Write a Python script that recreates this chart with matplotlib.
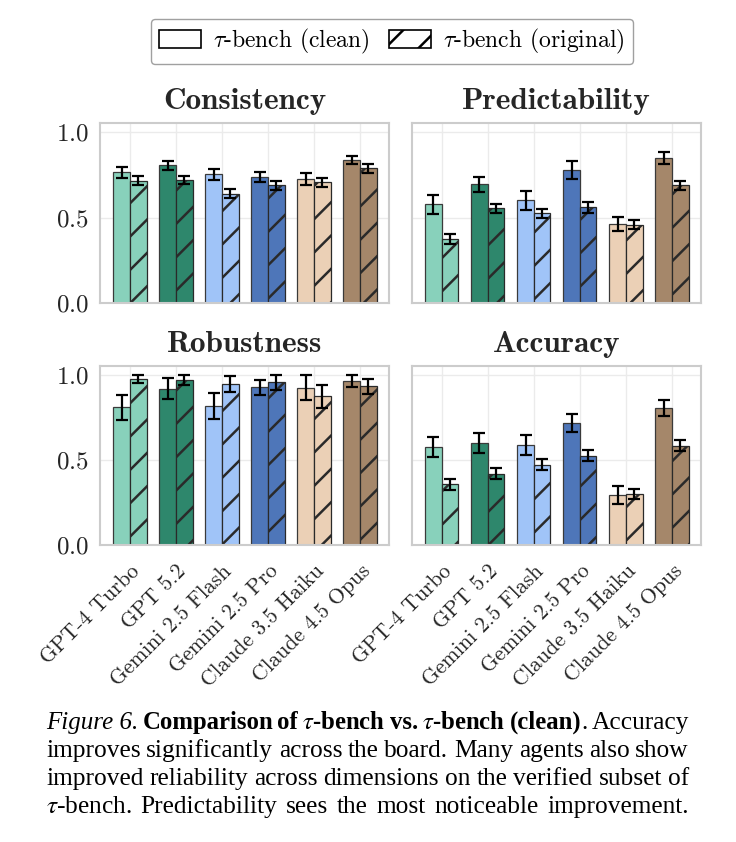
import matplotlib
matplotlib.use('Agg')
import matplotlib.pyplot as plt
from matplotlib.patches import Patch
import numpy as np

models = ['GPT-4 Turbo', 'GPT 5.2', 'Gemini 2.5 Flash', 'Gemini 2.5 Pro',
          'Claude 3.5 Haiku', 'Claude 4.5 Opus']
colors = ['#88D1BB', '#2E876C', '#A0C4F8', '#4E76B9', '#EBD0B6', '#A5876A']

# (clean, clean err, original, original err) per metric
consistency_clean = [0.765, 0.806, 0.753, 0.737, 0.727, 0.838]
consistency_clean_err = [0.033, 0.027, 0.031, 0.031, 0.035, 0.026]
consistency_orig = [0.717, 0.719, 0.639, 0.690, 0.706, 0.788]
consistency_orig_err = [0.025, 0.024, 0.027, 0.027, 0.027, 0.025]

predictability_clean = [0.578, 0.696, 0.601, 0.780, 0.464, 0.849]
predictability_clean_err = [0.057, 0.044, 0.057, 0.052, 0.042, 0.037]
predictability_orig = [0.375, 0.554, 0.525, 0.560, 0.458, 0.690]
predictability_orig_err = [0.031, 0.028, 0.028, 0.033, 0.027, 0.027]

robustness_clean = [0.809, 0.920, 0.817, 0.928, 0.926, 0.963]
robustness_clean_err = [0.074, 0.062, 0.078, 0.043, 0.074, 0.035]
robustness_orig = [0.975, 0.971, 0.947, 0.957, 0.875, 0.934]
robustness_orig_err = [0.023, 0.028, 0.047, 0.043, 0.068, 0.045]

accuracy_clean = [0.575, 0.600, 0.589, 0.717, 0.294, 0.805]
accuracy_clean_err = [0.057, 0.058, 0.058, 0.054, 0.054, 0.046]
accuracy_orig = [0.355, 0.417, 0.472, 0.524, 0.296, 0.583]
accuracy_orig_err = [0.032, 0.032, 0.032, 0.033, 0.030, 0.032]

panels = [
    ('Consistency', consistency_clean, consistency_clean_err, consistency_orig, consistency_orig_err),
    ('Predictability', predictability_clean, predictability_clean_err, predictability_orig, predictability_orig_err),
    ('Robustness', robustness_clean, robustness_clean_err, robustness_orig, robustness_orig_err),
    ('Accuracy', accuracy_clean, accuracy_clean_err, accuracy_orig, accuracy_orig_err),
]

caption_lines = [
    [[('Figure 6.', 'it')], [('Comparison', 'bf')], [('of', 'bf')], [(r'$\tau$-bench', 'bf')],
     [('vs.', 'bf')], [(r'$\tau$-bench', 'bf')], [('(clean)', 'bf'), ('.', 'rm')], [('Accuracy', 'rm')]],
    'improves significantly across the board. Many agents also show',
    'improved reliability across dimensions on the verified subset of',
    r'$\tau$-bench. Predictability sees the most noticeable improvement.',
]

plt.rcParams['font.family'] = 'cmr10'
plt.rcParams['mathtext.fontset'] = 'cm'
plt.rcParams['axes.formatter.use_mathtext'] = True
plt.rcParams['hatch.linewidth'] = 1.8

W, H = 736, 842
fig = plt.figure(figsize=(W / 100, H / 100), dpi=100)

boxes = [(100, 123, 389, 302.7), (411.7, 123, 701, 302.7),
         (100, 365.7, 389, 544.5), (411.7, 365.7, 701, 544.5)]

x = np.arange(len(models))
bw = 0.36
text_col = '#262626'

for i, (title, c, ce, o, oe) in enumerate(panels):
    l, t, r, b = boxes[i]
    ax = fig.add_axes([l / W, 1 - b / H, (r - l) / W, (b - t) / H])
    ax.set_axisbelow(True)
    ax.grid(True, color='#ebebeb', linewidth=1.0)
    ax.bar(x - bw / 2, c, bw, color=colors, edgecolor='#3a3a3a', linewidth=0.9)
    ax.bar(x + bw / 2, o, bw, color=colors, edgecolor='#2a2a2a', linewidth=0.9, hatch='/')
    ekw = dict(fmt='none', ecolor='black', elinewidth=1.6, capsize=4, capthick=1.6)
    ax.errorbar(x - bw / 2, c, yerr=ce, **ekw)
    ax.errorbar(x + bw / 2, o, yerr=oe, **ekw)
    ax.set_xlim(-0.652, 5.63)
    ax.set_ylim(0, 1.055)
    ax.set_yticks([0.0, 0.5, 1.0])
    ax.set_xticks(x)
    for s in ax.spines.values():
        s.set_color('#cccccc')
        s.set_linewidth(1.5)
    ax.tick_params(length=0, colors=text_col, labelsize=18, pad=8)
    ax.set_title(title, fontfamily='cmb10', fontsize=22.5, color=text_col, pad=10)
    if i % 2 == 1:
        ax.set_yticklabels([])
    if i < 2:
        ax.set_xticklabels([])
    else:
        ax.set_xticklabels(models, rotation=45, ha='right', rotation_mode='anchor',
                           fontsize=15.5, color=text_col)
        ax.tick_params(axis='x', pad=12)

handles = [Patch(facecolor='white', edgecolor='black', linewidth=1.2),
           Patch(facecolor='white', edgecolor='black', linewidth=1.2, hatch='/')]
fig.legend(handles, [r'$\tau$-bench (clean)', r'$\tau$-bench (original)'],
           loc='center', bbox_to_anchor=(392 / W, 1 - 41.5 / H), ncol=2,
           fontsize=17, frameon=True, edgecolor='#888888', fancybox=True,
           handlelength=1.8, handleheight=0.8, columnspacing=0.8, handletextpad=0.5,
           borderpad=0.35)

# caption, justified like the paper's text block
styles = {'rm': {'fontsize': 18.3}, 'it': {'style': 'italic', 'fontsize': 18.0},
          'bf': {'weight': 'bold', 'fontsize': 17.8}}
cap_kw = dict(fontfamily='Liberation Serif', color='black', math_fontfamily='stix')
renderer = fig.canvas.get_renderer()
x0, x1 = 46, 689
baselines = [729, 757, 785, 813]


def seg_width(txt, st):
    tt = fig.text(0, 0, txt, **cap_kw, **styles[st])
    w = tt.get_window_extent(renderer).width
    tt.remove()
    return w


for li, line in enumerate(caption_lines):
    if isinstance(line, str):
        words = [[(wd, 'rm')] for wd in line.split(' ')]
    else:
        words = line
    widths = [[seg_width(txt, st) for txt, st in wd] for wd in words]
    total = sum(sum(ws) for ws in widths)
    gap = (x1 - x0 - total) / (len(words) - 1)
    xp = x0
    for wd, ws in zip(words, widths):
        for (txt, st), w in zip(wd, ws):
            fig.text(xp / W, 1 - baselines[li] / H, txt, va='baseline', ha='left',
                     **cap_kw, **styles[st])
            xp += w
        xp += gap

fig.savefig('out.png', dpi=100)
